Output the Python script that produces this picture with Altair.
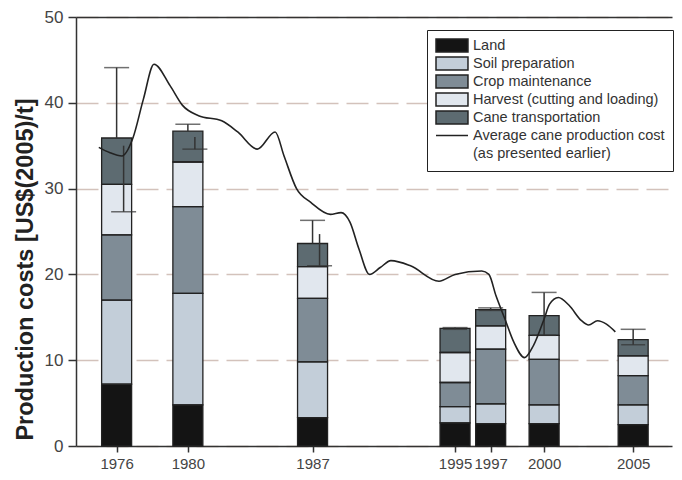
import altair as alt
import pandas as pd

# ---------------- data ----------------
years = [1976, 1980, 1987, 1995, 1997, 2000, 2005]
components = ["Land", "Soil preparation", "Crop maintenance",
              "Harvest (cutting and loading)", "Cane transportation"]
land = [7.2, 4.8, 3.3, 2.7, 2.6, 2.6, 2.5]
soil = [9.8, 13.0, 6.5, 1.9, 2.3, 2.2, 2.3]
crop = [7.6, 10.1, 7.4, 2.8, 6.4, 5.3, 3.4]
harvest = [5.9, 5.2, 3.7, 3.5, 2.7, 2.8, 2.3]
transport = [5.4, 3.6, 2.7, 2.8, 1.9, 2.3, 1.9]

err_upper = [44.1, 37.5, 26.3, 13.8, 16.1, 17.9, 13.6]

low_a_years = [1976, 1980, 1987]
low_a_start = [35.0, 36.0, 24.7]
low_a_end = [27.3, 34.6, 21.0]
low_b_years = [1995, 1997, 2000, 2005]
low_b_start = [13.7, 15.9, 15.2, 12.4]
low_b_end = [13.6, 15.8, 12.9, 11.8]

avg_label = "Average cane production cost"
avg_label2 = "(as presented earlier)"
line_years = [1975.0, 1975.6, 1976.3, 1976.9, 1977.5, 1978.1, 1979.0, 1979.7,
              1980.6, 1981.9, 1982.8, 1983.9, 1984.9, 1985.4, 1986.1, 1986.9,
              1988.0, 1988.6, 1989.1, 1989.6, 1990.2, 1990.8, 1991.4, 1992.5,
              1994.1, 1995.0, 1996.5, 1996.9, 1997.3, 1997.8, 1998.3, 1998.9,
              1999.4, 2000.0, 2000.3, 2000.8, 2001.4, 2002.1, 2002.5, 2003.0,
              2003.5, 2004.0]
line_values = [34.8, 34.2, 33.8, 35.8, 40.4, 44.5, 42.0, 39.7,
               38.5, 37.9, 36.6, 34.6, 36.6, 33.8, 30.0, 28.4,
               27.0, 27.2, 26.1, 23.0, 20.0, 20.8, 21.6, 21.0,
               19.2, 20.0, 20.4, 20.0, 17.5, 14.8, 12.1, 10.3,
               11.7, 14.8, 16.5, 17.3, 16.4, 14.6, 14.1, 14.6,
               14.2, 13.3]

fill_colors = ["#141414", "#c3ced9", "#7f8c96", "#e1e7ee", "#5d6b71",
               "transparent", "transparent"]
stroke_colors = ["#222222"] * 6 + ["transparent"]
rect_path = "M-1,-1H3.92V1H-1Z"
# horizontal line symbol; the zero-length segments only give it a full-height box
line_path = "M-1,-1L-1,-1M-1,0H3.92M3.92,1L3.92,1"
shapes = [rect_path] * 5 + [line_path, line_path]

# ---------------- tables ----------------
series = [land, soil, crop, harvest, transport]
rows = []
for k, (name, vals) in enumerate(zip(components, series)):
    for y, v in zip(years, vals):
        rows.append({"year": y, "component": name, "value": v, "k": k})
bars_df = pd.DataFrame(rows)

totals = [round(sum(s[i] for s in series), 2) for i in range(len(years))]
up_df = pd.DataFrame({"year": years, "lo": totals, "hi": err_upper})
low_a_df = pd.DataFrame({"year": low_a_years, "lo": low_a_start, "hi": low_a_end})
low_b_df = pd.DataFrame({"year": low_b_years, "lo": low_b_start, "hi": low_b_end})
line_df = pd.DataFrame({"year": line_years, "cost": line_values,
                        "component": [avg_label] * len(line_years)})

# ---------------- scales / axes ----------------
legend_domain = components + [avg_label, avg_label2]
xscale = alt.Scale(domain=[1974, 2006.9], nice=False, zero=False)
yscale = alt.Scale(domain=[0, 50], nice=False)
fill_scale = alt.Scale(domain=legend_domain, range=fill_colors)
stroke_scale = alt.Scale(domain=legend_domain, range=stroke_colors)
shape_scale = alt.Scale(domain=legend_domain, range=shapes)

x_axis = alt.Axis(values=years, format="d", title=None, grid=False,
                  labelFontSize=15, labelColor="#444", tickSize=6,
                  tickColor="#333", tickWidth=1.5, domainColor="#333",
                  domainWidth=1.5, labelPadding=4, labelFont="Liberation Sans")
y_axis = alt.Axis(values=[0, 10, 20, 30, 40, 50],
                  title="Production costs [US$(2005)/t]",
                  titleFontSize=23.5, titleFont="Liberation Sans",
                  titleFontWeight="bold", titleColor="#222", titlePadding=7,
                  titleY=252,
                  labelFontSize=17, labelColor="#444", labelPadding=5,
                  labelFont="Liberation Sans",
                  tickSize=8, tickColor="#333", tickWidth=1.5,
                  domainColor="#333", domainWidth=1.5,
                  grid=True, gridColor="#d3c2bb", gridDash=[22, 8],
                  gridWidth=1.3)

legend = alt.Legend(
    title=None, orient="none", legendX=351, legendY=13,
    symbolSize=169, labelOffset=23, symbolOpacity=1,
    symbolStrokeWidth=1.5, symbolStrokeColor="#222",
    labelFontSize=14.5, labelFont="Liberation Sans", labelColor="#333",
    labelLimit=320, rowPadding=-1.0, padding=8,
    strokeColor="#222", fillColor="white",
)

X_none = alt.X("year:Q", scale=xscale, axis=None)

bars = alt.Chart(bars_df).mark_bar(size=30).encode(
    x=alt.X("year:Q", scale=xscale, axis=x_axis),
    y=alt.Y("value:Q", stack="zero", scale=yscale, axis=y_axis),
    fill=alt.Fill("component:N", scale=fill_scale, legend=legend),
    order=alt.Order("k:Q", sort="ascending"),
)
outlines = alt.Chart(bars_df).mark_bar(size=30, fillOpacity=0, stroke="#222",
                                       strokeWidth=1.3).encode(
    x=X_none,
    y=alt.Y("value:Q", stack="zero"),
    detail="component:N",
    order=alt.Order("k:Q", sort="ascending"),
)

err_style = dict(color="#333", strokeWidth=1.5)
up_rule = alt.Chart(up_df).mark_rule(**err_style).encode(
    x=X_none, y="lo:Q", y2="hi:Q")
up_cap = alt.Chart(up_df).mark_tick(orient="horizontal", size=25,
                                    thickness=1.5, color="#333").encode(
    x=X_none, y="hi:Q")
low_a_rule = alt.Chart(low_a_df).mark_rule(xOffset=7, **err_style).encode(
    x=X_none, y="lo:Q", y2="hi:Q")
low_a_cap = alt.Chart(low_a_df).mark_tick(orient="horizontal", size=25,
                                          thickness=1.5, color="#333",
                                          xOffset=7).encode(
    x=X_none, y="hi:Q")
low_b_rule = alt.Chart(low_b_df).mark_rule(**err_style).encode(
    x=X_none, y="lo:Q", y2="hi:Q")
low_b_cap = alt.Chart(low_b_df).mark_tick(orient="horizontal", size=24,
                                          thickness=1.5, color="#333").encode(
    x=X_none, y="hi:Q")

line = alt.Chart(line_df).mark_line(interpolate="monotone", strokeWidth=1.6).encode(
    x=X_none,
    y="cost:Q",
    stroke=alt.Stroke("component:N", scale=stroke_scale, legend=legend),
)

# invisible layer carrying the legend symbol shapes (no rows)
shape_layer = alt.Chart(alt.Data(values=[])).mark_point().encode(
    x=alt.X("year:Q", scale=xscale, axis=None),
    y="cost:Q",
    shape=alt.Shape("component:N", scale=shape_scale, legend=legend),
)

# top frame line as a second (top) x axis
top_frame = alt.Chart(line_df).mark_line(opacity=0).encode(
    x=alt.X("year:Q", scale=xscale,
            axis=alt.Axis(orient="top", labels=False, ticks=False, grid=False,
                          title=None, domainColor="#333", domainWidth=1.5)),
    y="cost:Q",
)

chart = alt.layer(
    bars, outlines, up_rule, up_cap, low_a_rule, low_a_cap, low_b_rule,
    low_b_cap, line, shape_layer, top_frame,
).resolve_axis(x="independent").properties(
    width=596, height=429,
    padding={"left": 5, "top": 0, "right": 0, "bottom": 0},
    background="white",
).configure_view(stroke=None)

chart.save("out.html", embed_options={"renderer": "svg", "actions": False})
